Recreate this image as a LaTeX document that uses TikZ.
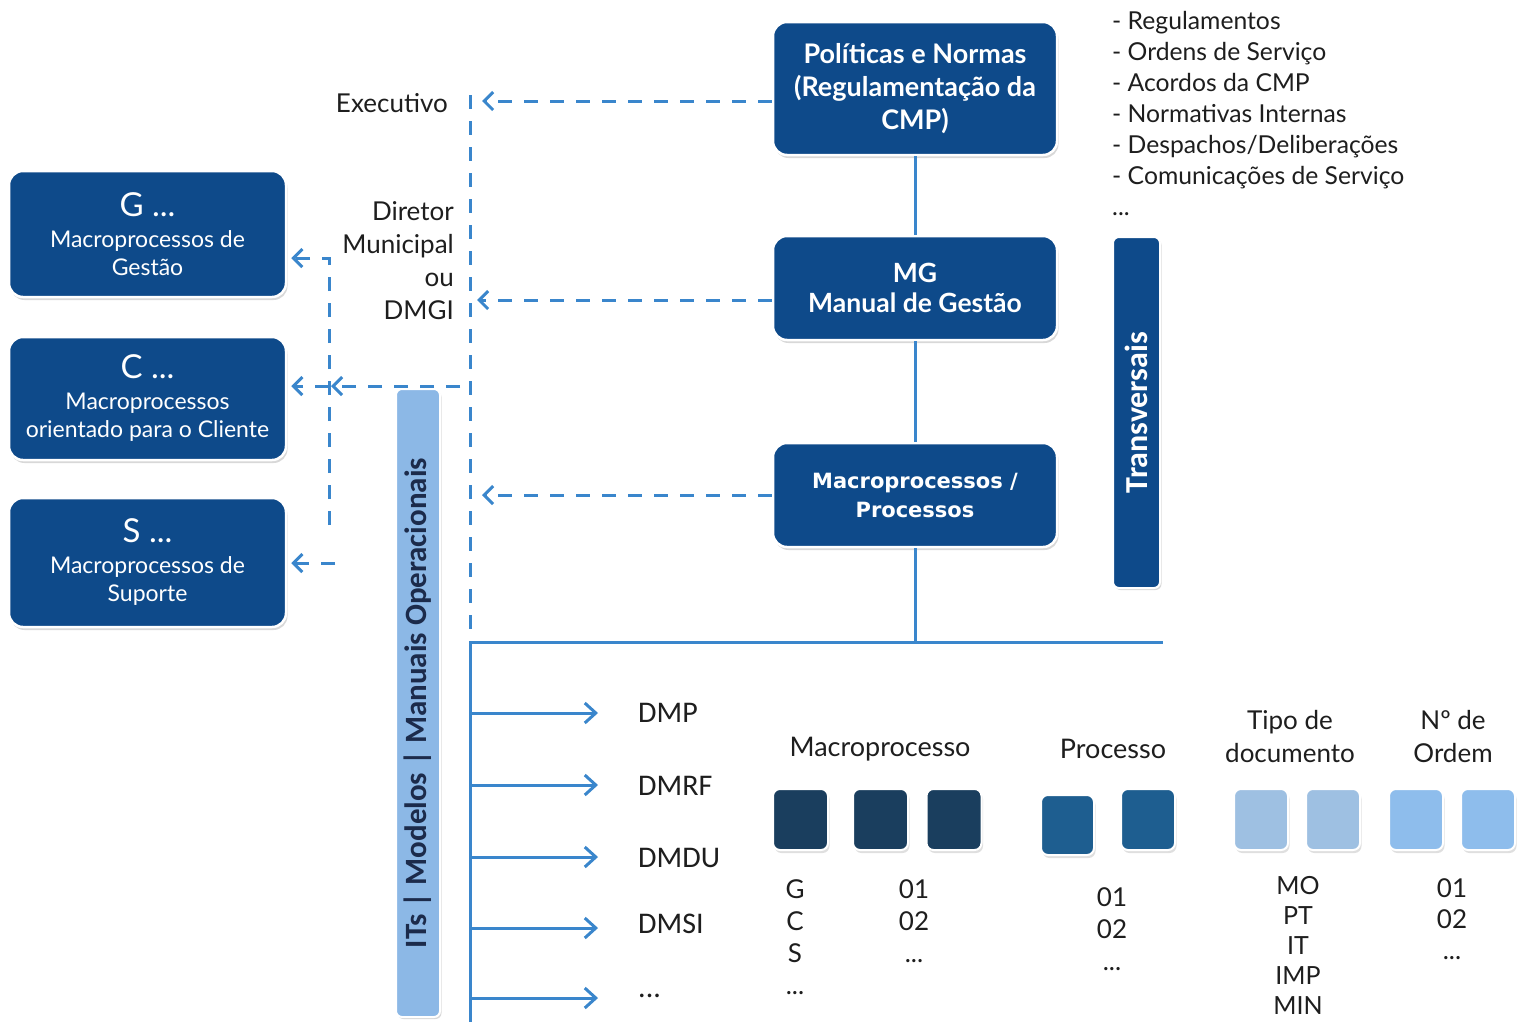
\documentclass[tikz,border=0pt]{standalone}
\usepackage{fontspec}
\setmainfont{Lato}
\newfontfamily\carlito{Carlito}
\newfontfamily\dejavu{DejaVu Sans}
\usetikzlibrary{arrows.meta,shadows}
\definecolor{boxblue}{RGB}{14,74,138}
\definecolor{lineblue}{RGB}{58,134,204}
\definecolor{barlight}{RGB}{140,184,230}
\definecolor{bartext}{RGB}{28,43,75}
\definecolor{sqmacro}{RGB}{26,62,94}
\definecolor{sqproc}{RGB}{30,94,144}
\definecolor{sqtipo}{RGB}{158,192,226}
\definecolor{sqordem}{RGB}{142,189,236}
\definecolor{txt}{RGB}{30,30,30}
\begin{document}
\begin{tikzpicture}[x=1pt,y=-1pt,
  bluebox/.style={draw=white, line width=2.5pt, fill=boxblue, rounded corners=14pt,
    text=white, align=center, inner sep=0pt,
    drop shadow={shadow xshift=1.5pt, shadow yshift=-3pt, opacity=0.3, fill=gray}},
  barbox/.style={draw=white, line width=2pt, rounded corners=6pt, inner sep=0pt,
    drop shadow={shadow xshift=1.5pt, shadow yshift=-2pt, opacity=0.3, fill=gray}},
  sqbox/.style={draw=white, line width=2pt, rounded corners=7pt, inner sep=0pt,
    minimum width=55pt, minimum height=61pt,
    drop shadow={shadow xshift=1.5pt, shadow yshift=-3pt, opacity=0.25, fill=gray}},
  plain/.style={text=txt, inner sep=0pt},
  dashline/.style={draw=lineblue, line width=3pt, dash pattern=on 14pt off 12pt},
  dasharrow/.style={dashline, -{Straight Barb[length=9pt,width=18pt]}},
  solidline/.style={draw=lineblue, line width=3pt},
  solidarrow/.style={solidline, -{Straight Barb[length=11pt,width=20pt]}},
  dmlabel/.style={plain, anchor=west, font=\carlito\fontsize{30}{30}\selectfont},
  collabel/.style={plain, align=center, font=\fontsize{26}{32}\selectfont},
]
\useasboundingbox[fill=white] (0,0) rectangle (1522,1023);

% ---- main boxes
\node[bluebox, minimum width=284pt, minimum height=133pt,
  font=\bfseries\fontsize{27}{33}\selectfont] (pol) at (915,88.5)
  {Políticas e Normas\\(Regulamentação da\\CMP)};
\node[bluebox, minimum width=284pt, minimum height=104pt,
  font=\bfseries\fontsize{26.5}{30}\selectfont] (mg) at (915,288)
  {MG\\Manual de Gestão};
\node[bluebox, minimum width=284pt, minimum height=104pt,
  font=\dejavu\bfseries\fontsize{21}{29}\selectfont] (mac) at (915,495)
  {Macroprocessos /\\Processos};

% ---- Transversais bar
\node[barbox, fill=boxblue, text=white, rotate=90, minimum width=351pt, minimum height=47pt,
  font=\carlito\bfseries\fontsize{32}{32}\selectfont] (trans) at (1136.5,412.5) {Transversais};

% ---- ITs bar
\node[barbox, fill=barlight, text=bartext, rotate=90, minimum width=628pt, minimum height=44pt,
  font=\carlito\bfseries\fontsize{31}{31}\selectfont] (its) at (418,703)
  {ITs | Modelos | Manuais Operacionais};

% ---- left boxes
\node[bluebox, minimum width=277pt, minimum height=126pt,
  font=\fontsize{23}{28}\selectfont] (gb) at (147.5,234)
  {{\fontsize{33}{33}\selectfont G ...}\\[3pt]Macroprocessos de\\Gestão};
\node[bluebox, minimum width=277pt, minimum height=123pt,
  font=\fontsize{23}{28}\selectfont] (cb) at (147.5,398.5)
  {{\fontsize{33}{33}\selectfont C ...}\\[3pt]Macroprocessos\\orientado para o Cliente};
\node[bluebox, minimum width=277pt, minimum height=129pt,
  font=\fontsize{23}{28}\selectfont] (sb) at (147.5,562.5)
  {{\fontsize{33}{33}\selectfont S ...}\\[3pt]Macroprocessos de\\Suporte};

% ---- texts
\node[plain, anchor=east, font=\fontsize{26}{26}\selectfont] (exec) at (448,103) {Executivo};
\node[plain, anchor=east, align=right, font=\fontsize{26}{33}\selectfont] (dir) at (454,261)
  {Diretor\\Municipal\\ou\\DMGI};
\node[plain, anchor=north west, align=left, font=\fontsize{24.7}{31}\selectfont] (list) at (1112,11)
  {- Regulamentos\\- Ordens de Serviço\\- Acordos da CMP\\- Normativas Internas\\- Despachos/Deliberações\\- Comunicações de Serviço\\...};

% ---- solid connectors
\coordinate (hl) at (470,642);
\coordinate (hr) at (1163,642);
\coordinate (vb) at (470,1022);
\draw[solidline] (pol.south) -- (mg.north);
\draw[solidline] (mg.south) -- (mac.north);
\draw[solidline] (mac.south) -- (mac.south |- hl);
\draw[solidline] (hl) -- (hr);
\draw[solidline] (hl) -- (vb);

\node[dmlabel] (d1) at (638,713) {DMP};
\node[dmlabel] (d2) at (638,786) {DMRF};
\node[dmlabel] (d3) at (638,858) {DMDU};
\node[dmlabel] (d4) at (638,924) {DMSI};
\node[dmlabel] (d5) at (638,996) {...};
\foreach \nm/\yy in {d1/713,d2/785,d3/857,d4/928,d5/998}{
  \coordinate (s\nm) at (470,\yy);
  \coordinate (e\nm) at (598,\yy);
  \draw[solidarrow] (s\nm) -- (e\nm);
}

% ---- dashed connectors
\coordinate (vtop) at (470,95);
\draw[dashline] (vtop) -- (hl);
\coordinate (y1) at (482,101);
\coordinate (y2) at (477,300);
\coordinate (y3) at (482,495);
\draw[dasharrow] (pol.west |- y1) -- (y1);
\draw[dasharrow] (mg.west |- y2) -- (y2);
\draw[dasharrow] (mac.west |- y3) -- (y3);

\coordinate (cstart) at (460,386);
\coordinate (cx) at (329,386);
\draw[dasharrow] (cstart) -- ([xshift=2pt]cx);
\draw[dasharrow, shorten >=4pt] (cx) -- (cb.east |- cx);
\coordinate (gbot) at (329,525);
\coordinate (gtop) at (329,258);
\draw[dasharrow, shorten >=4pt] (gbot) -- (gtop) -- (gb.east |- gtop);
\coordinate (sst) at (335,563);
\draw[dasharrow, shorten >=4pt] (sst) -- (sb.east |- sst);

% ---- coding squares
\node[sqbox, fill=sqmacro] (m1) at (800.5,819.5) {};
\node[sqbox, fill=sqmacro] (m2) at (880.5,819.5) {};
\node[sqbox, fill=sqmacro] (m3) at (954,819.5) {};
\node[sqbox, fill=sqproc, minimum width=53pt, minimum height=60pt] (p1) at (1067.5,825) {};
\node[sqbox, fill=sqproc, minimum width=54pt] (p2) at (1148,819.5) {};
\node[sqbox, fill=sqtipo, minimum width=54pt] (t1) at (1261,819.5) {};
\node[sqbox, fill=sqtipo, minimum width=54pt] (t2) at (1333,819.5) {};
\node[sqbox, fill=sqordem, minimum width=54pt] (o1) at (1416,819.5) {};
\node[sqbox, fill=sqordem, minimum width=54pt] (o2) at (1488,819.5) {};

\node[collabel, font=\fontsize{27}{32}\selectfont] (hmac) at (880,749) {Macroprocesso};
\node[collabel, font=\fontsize{27}{32}\selectfont] (hproc) at (1113,749) {Processo};
\node[collabel, font=\fontsize{26}{33}\selectfont] (htipo) at (1290,737) {Tipo de\\documento};
\node[collabel, font=\fontsize{26}{33}\selectfont] (hord) at (1453,737) {Nº de\\Ordem};

\node[collabel, anchor=north, font=\fontsize{26}{32}\selectfont] (cg) at (795,879) {G\\C\\S\\...};
\node[collabel, anchor=north, font=\fontsize{26}{32}\selectfont] (cn1) at (914,879) {01\\02\\...};
\node[collabel, anchor=north, font=\fontsize{26}{32}\selectfont] (cn2) at (1112,887) {01\\02\\...};
\node[collabel, anchor=north, font=\fontsize{25}{30}\selectfont] (ct) at (1298,876) {MO\\PT\\IT\\IMP\\MIN};
\node[collabel, anchor=north, font=\fontsize{26}{31}\selectfont] (co) at (1452,878) {01\\02\\...};
\end{tikzpicture}
\end{document}
